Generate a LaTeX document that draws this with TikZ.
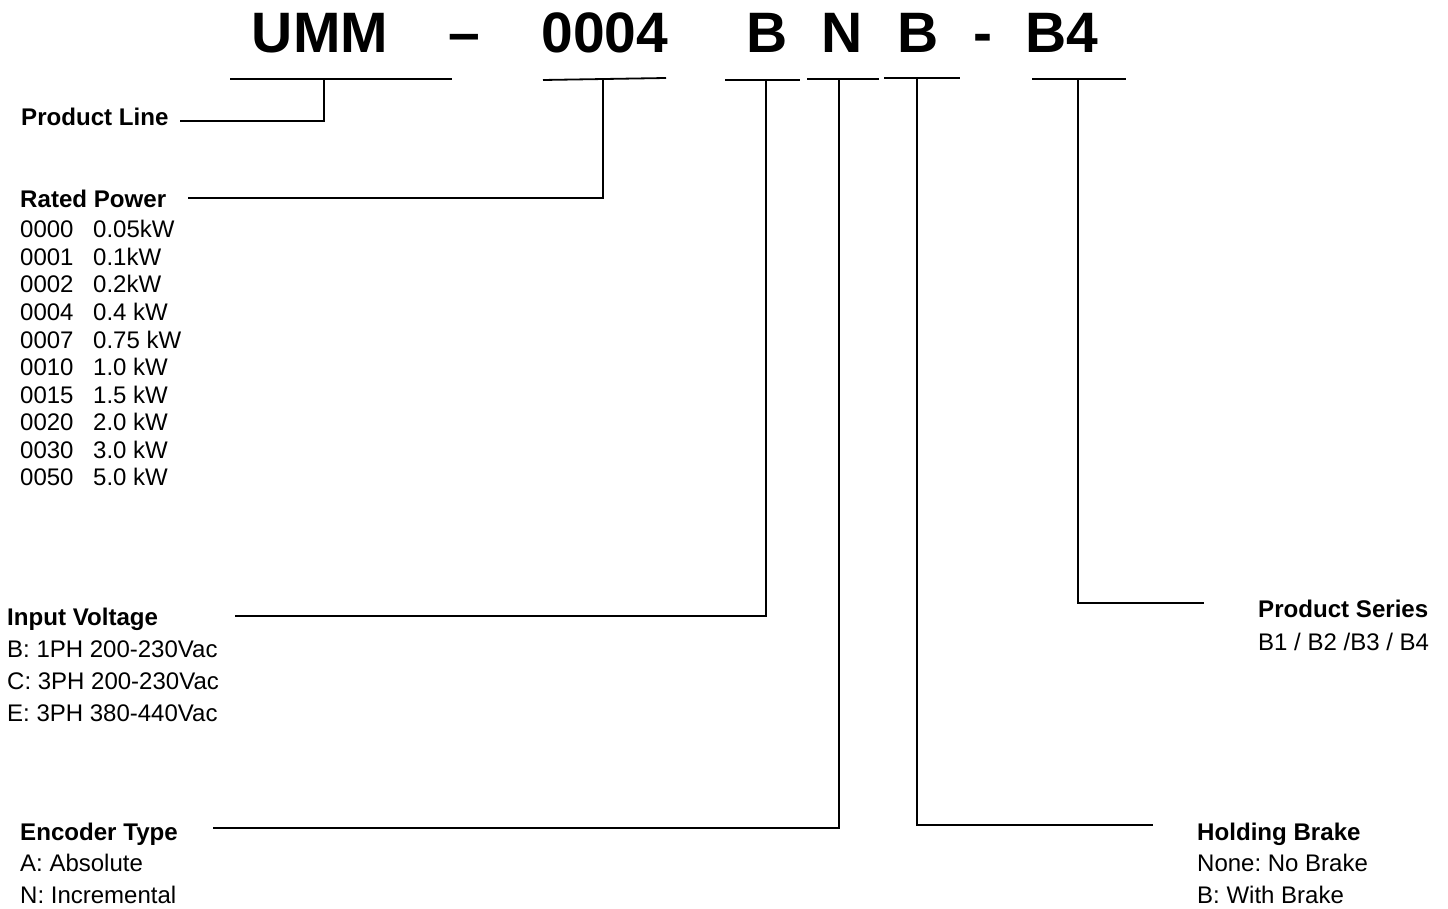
\documentclass[tikz,border=0pt]{standalone}
\usepackage{fontspec}
\setmainfont{Liberation Sans}
\frenchspacing
\begin{document}
\begin{tikzpicture}[x=1pt,y=-1pt,
  titletext/.style={font=\fontsize{57}{60}\selectfont\bfseries, inner sep=0pt, anchor=base},
  headtext/.style={font=\fontsize{24.1}{28}\selectfont\bfseries, inner sep=0pt, anchor=base west},
  itemtext/.style={font=\fontsize{24}{28}\selectfont, inner sep=0pt, anchor=base west},
  uline/.style={line width=1.8pt},
  lead/.style={line width=1.4pt}]
\useasboundingbox (0,0) rectangle (1448,909);
% title
\node[titletext] (tU) at (320,53) {UMM};
\node[titletext] (tD1) at (464,53) {–};
\node[titletext] (tP) at (605,53) {0004};
\node[titletext] (tV) at (767,53) {B};
\node[titletext] (tE) at (842,53) {N};
\node[titletext] (tB) at (918,53) {B};
\node[titletext] (tD2) at (982.5,53) {-};
\node[titletext] (tS) at (1061.5,53) {B4};
% underlines
\draw[uline] (230,79) -- (452,79);
\draw[uline] (543,80) -- (666,78);
\draw[uline] (725,80) -- (800,80);
\draw[uline] (807,79) -- (879,79);
\draw[uline] (884,78) -- (960,78);
\draw[uline] (1032,79) -- (1126,79);
% stem tops
\coordinate (sU) at (324,79);
\coordinate (sP) at (603,79);
\coordinate (sV) at (766,80);
\coordinate (sE) at (839,79);
\coordinate (sB) at (917,78);
\coordinate (sS) at (1078,79);
% leader ends
\coordinate (ePL) at (180,121);
\coordinate (eRP) at (188,198);
\coordinate (eIV) at (235,616);
\coordinate (eET) at (213,828);
\coordinate (eHB) at (1153,825);
\coordinate (ePS) at (1204,603);
% labels
\node[headtext] (hPL) at (21,126) {Product Line};
\node[headtext] (hRP) at (20,208) {Rated Power};
\foreach \c/\v [count=\i from 0] in {0000/0.05kW,0001/0.1kW,0002/0.2kW,0004/0.4 kW,0007/0.75 kW,0010/1.0 kW,0015/1.5 kW,0020/2.0 kW,0030/3.0 kW,0050/5.0 kW}{
  \node[itemtext] (rc\i) at (20,238+27.5*\i) {\c};
  \node[itemtext] (rv\i) at (93,238+27.5*\i) {\v};
}
\node[headtext] (hIV) at (7,625) {Input Voltage};
\node[itemtext] (iv1) at (7,657) {B: 1PH 200-230Vac};
\node[itemtext] (iv2) at (7,689) {C: 3PH 200-230Vac};
\node[itemtext] (iv3) at (7,721) {E: 3PH 380-440Vac};
\node[headtext] (hET) at (20,840) {Encoder Type};
\node[itemtext] (et1) at (20,871) {A: Absolute};
\node[itemtext] (et2) at (20,903) {N: Incremental};
\node[headtext] (hHB) at (1197,840) {Holding Brake};
\node[itemtext] (hb1) at (1197,871) {None: No Brake};
\node[itemtext] (hb2) at (1197,903) {B: With Brake};
\node[headtext] (hPS) at (1258,617) {Product Series};
\node[itemtext] (ps1) at (1258,650) {B1 / B2 /B3 / B4};
% leaders
\draw[lead] (sU) |- (ePL);
\draw[lead] (sP) |- (eRP);
\draw[lead] (sV) |- (eIV);
\draw[lead] (sE) |- (eET);
\draw[lead] (sB) |- (eHB);
\draw[lead] (sS) |- (ePS);
\end{tikzpicture}
\end{document}
